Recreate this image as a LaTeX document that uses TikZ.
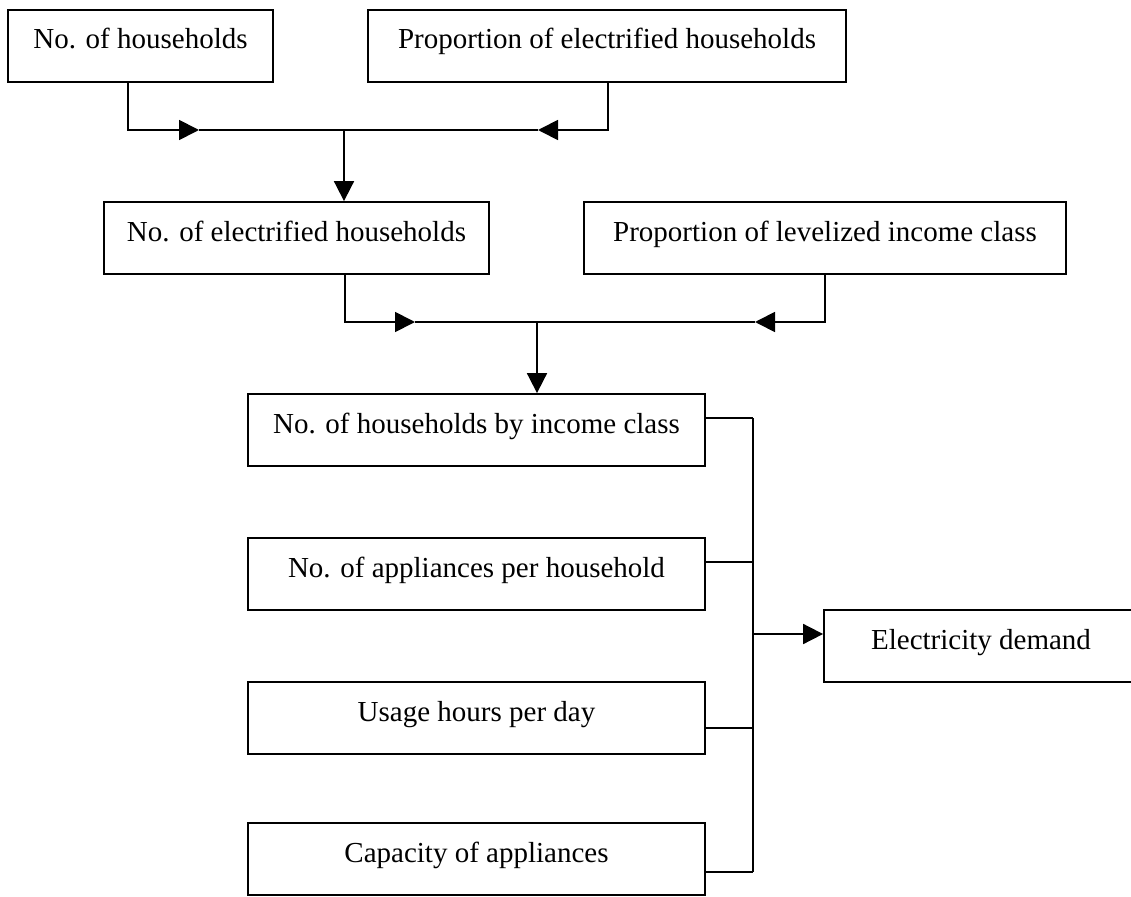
\documentclass[tikz,border=0pt]{standalone}
\usepackage{fontspec}
\setmainfont{Liberation Serif}
\usetikzlibrary{arrows.meta}
\begin{document}
\begin{tikzpicture}[x=1pt,y=-1pt,
  box/.style={draw, line width=1.8pt, inner sep=0pt, text height=39pt, text depth=33pt,
    font=\fontsize{29}{34}\selectfont},
  conn/.style={line width=1.8pt},
  arr/.style={line width=1.8pt, -{Triangle[length=20pt,width=20pt]}}]
\useasboundingbox (0,0) rectangle (1131,896);
% boxes
\node[box, minimum width=265pt] (b1) at (140.5,46) {No. of households};
\node[box, minimum width=478pt] (b2) at (607,46) {Proportion of electrified households};
\node[box, minimum width=385pt] (b3) at (296.5,238) {No. of electrified households};
\node[box, minimum width=482pt] (b4) at (825,238) {Proportion of levelized income class};
\node[box, minimum width=457pt] (b5) at (476.5,430) {No. of households by income class};
\node[box, minimum width=457pt] (b6) at (476.5,574) {No. of appliances per household};
\node[box, minimum width=457pt] (b7) at (476.5,718) {Usage hours per day};
\node[box, minimum width=457pt] (b8) at (476.5,859) {Capacity of appliances};
\node[box, minimum width=314pt] (b9) at (981,646) {Electricity demand};
% junction coordinates
\coordinate (h1L) at (128,130);
\coordinate (h1M) at (344,130);
\coordinate (h1R) at (608,130);
\coordinate (a1) at (199,130);
\coordinate (a2) at (538,130);
\coordinate (h2L) at (345,322);
\coordinate (h2M) at (537,322);
\coordinate (h2R) at (825,322);
\coordinate (a3) at (415,322);
\coordinate (a4) at (755,322);
\coordinate (c5) at (753,418);
\coordinate (c6) at (753,562);
\coordinate (c7) at (753,728);
\coordinate (c8) at (753,872);
\coordinate (c9) at (753,634);
% first stage
\draw[arr] (b1.south -| h1L) |- (a1);
\draw[conn] (a1) -- (h1M);
\draw[arr] (b2.south -| h1R) |- (a2);
\draw[conn] (a2) -- (h1M);
\draw[arr] (h1M) -- (b3.north -| h1M);
% second stage
\draw[arr] (b3.south -| h2L) |- (a3);
\draw[conn] (a3) -- (h2M);
\draw[arr] (b4.south -| h2R) |- (a4);
\draw[conn] (a4) -- (h2M);
\draw[arr] (h2M) -- (b5.north -| h2M);
% bus
\draw[conn] (b5.east |- c5) -- (c5);
\draw[conn] (b6.east |- c6) -- (c6);
\draw[conn] (b7.east |- c7) -- (c7);
\draw[conn] (b8.east |- c8) -- (c8);
\draw[conn] (c5) -- (c8);
\draw[arr] (c9) -- (b9.west |- c9);
\end{tikzpicture}
\end{document}
